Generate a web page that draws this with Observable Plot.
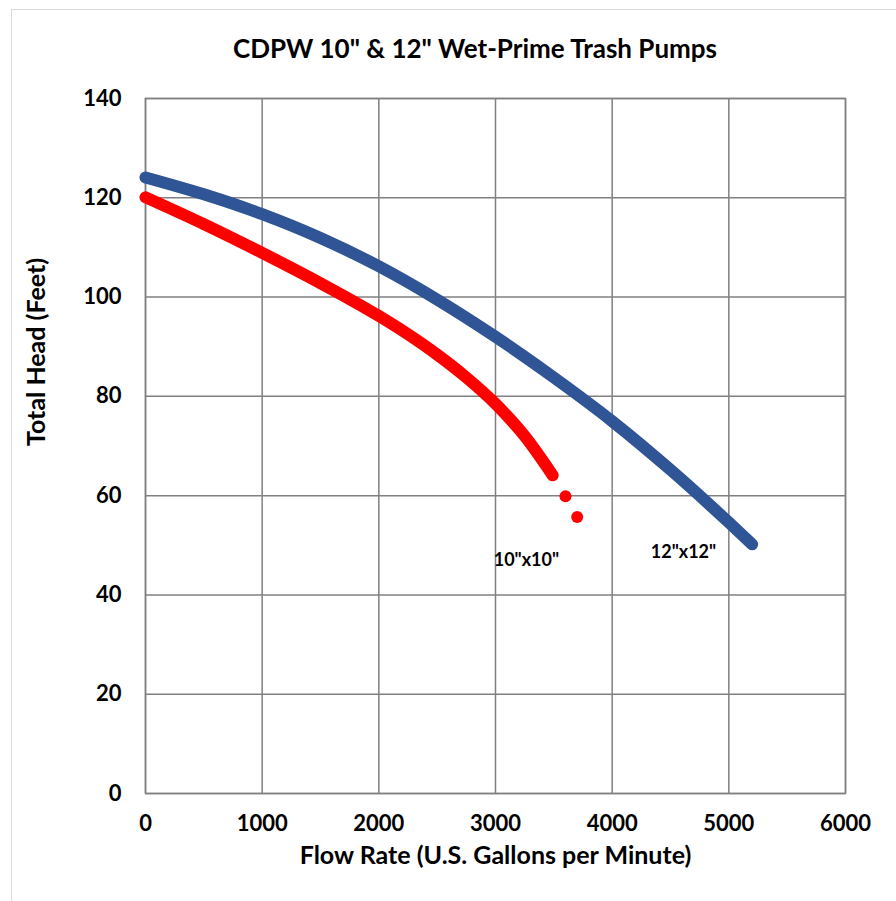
<!DOCTYPE html>
<html>
<head>
<meta charset="utf-8">
<script src="https://cdn.jsdelivr.net/npm/d3@7"></script>
<script src="https://cdn.jsdelivr.net/npm/@observablehq/plot@0.6"></script>
<style>
  html, body { margin: 0; padding: 0; background: #fff; }
  #wrap { position: relative; width: 896px; height: 901px; overflow: hidden; font-family: Lato, "Open Sans", sans-serif; }
  #border { position: absolute; left: 11px; top: 9px; width: 900px; height: 900px; border: 1px solid #d9d9d9; box-sizing: border-box; }
  #title { position: absolute; left: 0; width: 950px; top: 32px; text-align: center; font-size: 26px; font-weight: bold; color: #000; line-height: 32px; }
  #chart { position: absolute; left: 0; top: 0; }
</style>
</head>
<body>
<div id="wrap">
  <div id="border"></div>
  <div id="title">CDPW 10" &amp; 12" Wet-Prime Trash Pumps</div>
  <div id="chart"></div>
</div>
<script>
const flow12 = [0, 500, 1000, 1500, 2000, 2500, 3000, 3500, 4000, 4500, 5000, 5200];
const head12 = [124.1, 120.7, 116.7, 111.9, 106.2, 99.5, 92.0, 83.8, 75.0, 65.2, 54.6, 50.2];
const flow10 = [0, 500, 1000, 1500, 2000, 2250, 2500, 2750, 3000, 3250, 3490];
const head10 = [120.1, 114.7, 108.9, 102.8, 96.2, 92.5, 88.4, 83.8, 78.5, 72.0, 64.1];
const dotFlow10 = [3600, 3700];
const dotHead10 = [59.9, 55.7];
const xTicks = [0, 1000, 2000, 3000, 4000, 5000, 6000];
const yTicks = [0, 20, 40, 60, 80, 100, 120, 140];
const seriesLabels = [
  {name: '10"x10"', flow: 3265, head: 46.9},
  {name: '12"x12"', flow: 4611, head: 48.7}
];

const line12 = flow12.map((f, i) => ({flow: f, head: head12[i]}));
const line10 = flow10.map((f, i) => ({flow: f, head: head10[i]}));
const dots10 = dotFlow10.map((f, i) => ({flow: f, head: dotHead10[i]}));

const blue = "#2F5597";
const red = "#FF0000";
const grid = "#808080";

const chart = Plot.plot({
  width: 896,
  height: 901,
  marginLeft: 145,
  marginRight: 51,
  marginTop: 98,
  marginBottom: 108,
  style: {fontFamily: "Lato, 'Open Sans', sans-serif", background: "transparent"},
  x: {domain: [0, 6000]},
  y: {domain: [0, 140]},
  marks: [
    Plot.gridX(xTicks, {stroke: grid, strokeOpacity: 1, strokeWidth: 1.5}),
    Plot.gridY(yTicks, {stroke: grid, strokeOpacity: 1, strokeWidth: 1.5}),
    Plot.frame({stroke: grid, strokeWidth: 1.5}),
    Plot.axisX(xTicks, {tickSize: 0, tickPadding: 22, fontSize: 22, fontWeight: "bold", fill: "#000", label: null, tickFormat: d => String(d)}),
    Plot.axisY(yTicks, {tickSize: 0, tickPadding: 24, fontSize: 22, fontWeight: "bold", fill: "#000", label: null, tickFormat: d => String(d)}),
    Plot.line(line10, {x: "flow", y: "head", stroke: red, strokeWidth: 12, strokeLinecap: "round", strokeLinejoin: "round", curve: "monotone-x"}),
    Plot.dot(dots10, {x: "flow", y: "head", r: 6, fill: red, stroke: "none"}),
    Plot.line(line12, {x: "flow", y: "head", stroke: blue, strokeWidth: 12, strokeLinecap: "round", strokeLinejoin: "round", curve: "monotone-x"}),
    Plot.text(seriesLabels, {x: "flow", y: "head", text: "name", fontSize: 18, fontWeight: "bold", fill: "#000"}),
    Plot.text(["Flow Rate (U.S. Gallons per Minute)"], {frameAnchor: "bottom", dy: 70, fontSize: 25, fontWeight: "bold", fill: "#000"}),
    Plot.text(["Total Head (Feet)"], {frameAnchor: "left", dx: -109, rotate: -90, fontSize: 25, fontWeight: "bold", fill: "#000"})
  ]
});
document.getElementById("chart").appendChild(chart);
</script>
</body>
</html>
